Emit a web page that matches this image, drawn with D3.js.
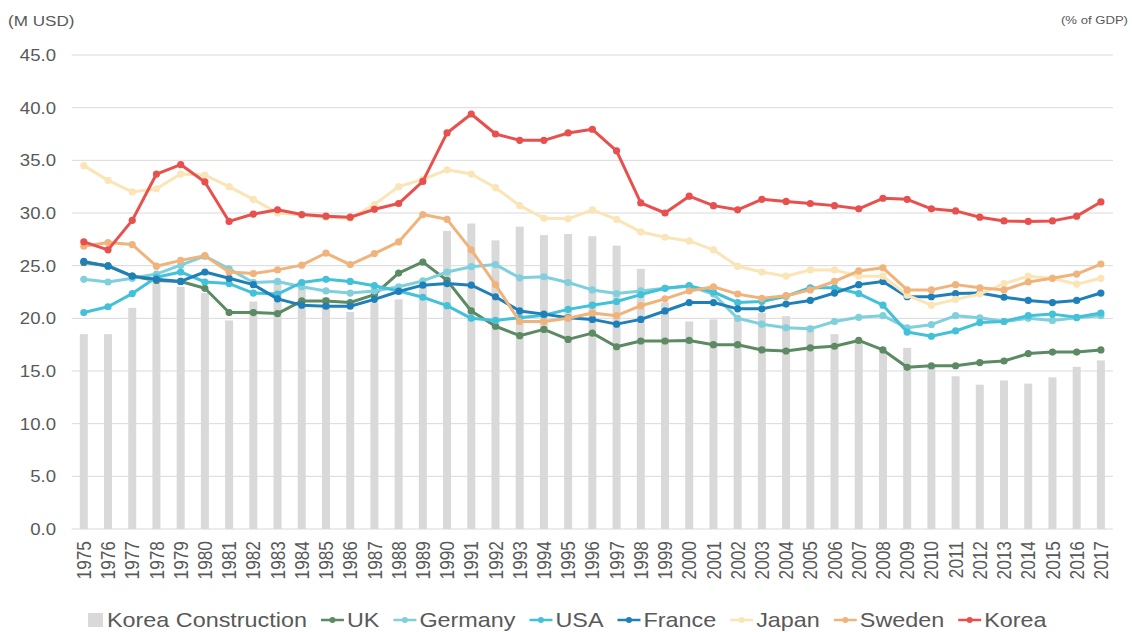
<html lang="en">
    <head>
        <meta charset="utf-8">
        <title>Construction investment</title>
        <script type="text/javascript" src="https://d3js.org/d3.v7.min.js"></script>
        <style>
            body { margin: 0; background: #ffffff; }
            text { font-family: "Liberation Sans", Arial, sans-serif; fill: #595959; }
        </style>
    </head>
    <body>
        <div id="chart"></div>
        <script type="text/javascript">
            // categories
            const years = ["1975","1976","1977","1978","1979","1980","1981","1982","1983","1984",
                           "1985","1986","1987","1988","1989","1990","1991","1992","1993","1994",
                           "1995","1996","1997","1998","1999","2000","2001","2002","2003","2004",
                           "2005","2006","2007","2008","2009","2010","2011","2012","2013","2014",
                           "2015","2016","2017"];
            const yTicks = [0, 5, 10, 15, 20, 25, 30, 35, 40, 45];

            // bars (M USD)
            const koreaConstruction = [18.5,18.5,21.0,23.4,23.0,22.4,19.8,21.6,23.5,22.9,
                                       22.0,20.6,21.5,21.8,23.0,28.3,29.0,27.4,28.7,27.9,
                                       28.0,27.8,26.9,24.7,21.5,19.7,19.9,19.8,20.5,20.2,
                                       19.3,18.5,17.9,16.9,17.2,15.4,14.5,13.7,14.1,13.8,
                                       14.4,15.4,16.0];
            // lines (% of GDP)
            const uk      = [25.3,25.0,24.0,23.6,23.5,22.85,20.55,20.55,20.45,21.65,
                             21.65,21.5,22.25,24.3,25.35,23.6,20.7,19.25,18.35,18.95,
                             18.0,18.6,17.3,17.85,17.85,17.9,17.5,17.5,17.0,16.9,
                             17.2,17.35,17.9,17.0,15.35,15.5,15.5,15.8,15.95,16.65,
                             16.8,16.8,17.0];
            const germany = [23.7,23.45,23.8,24.2,25.05,25.9,24.7,23.4,23.5,23.0,
                             22.6,22.4,22.6,23.0,23.55,24.4,24.9,25.1,23.85,23.95,
                             23.4,22.7,22.35,22.6,22.85,23.05,22.3,20.0,19.45,19.1,
                             19.0,19.7,20.1,20.25,19.1,19.4,20.25,20.05,19.7,20.0,
                             19.8,20.05,20.25];
            const usa     = [20.55,21.1,22.35,23.9,24.4,23.45,23.3,22.4,22.3,23.4,
                             23.7,23.5,23.1,22.6,22.0,21.2,20.0,19.8,20.05,20.3,
                             20.85,21.25,21.6,22.25,22.85,23.1,22.5,21.5,21.6,22.1,
                             22.9,22.9,22.35,21.25,18.7,18.3,18.8,19.6,19.7,20.25,
                             20.4,20.1,20.5];
            const france  = [25.4,24.95,24.0,23.7,23.5,24.4,23.8,23.2,21.85,21.25,
                             21.15,21.15,21.8,22.55,23.15,23.3,23.15,22.05,20.7,20.4,
                             20.05,19.9,19.45,19.9,20.7,21.5,21.5,20.9,20.9,21.35,
                             21.7,22.4,23.2,23.5,22.05,22.05,22.35,22.4,22.0,21.7,
                             21.5,21.7,22.4];
            const japan   = [34.5,33.1,32.0,32.3,33.7,33.6,32.5,31.3,30.0,29.8,
                             29.6,29.5,30.8,32.5,33.2,34.1,33.7,32.4,30.7,29.5,
                             29.45,30.3,29.4,28.2,27.7,27.35,26.5,24.95,24.4,24.0,
                             24.6,24.6,24.0,24.0,22.2,21.25,21.8,22.3,23.3,24.0,
                             23.8,23.25,23.8];
            const sweden  = [26.85,27.2,27.0,24.95,25.5,25.95,24.4,24.25,24.6,25.05,
                             26.2,25.1,26.15,27.25,29.85,29.4,26.5,23.2,19.7,19.7,
                             20.0,20.5,20.25,21.2,21.85,22.6,23.0,22.3,21.9,22.15,
                             22.7,23.5,24.5,24.8,22.7,22.7,23.2,22.9,22.7,23.45,
                             23.8,24.2,25.15];
            const korea   = [27.26,26.5,29.3,33.7,34.6,32.95,29.2,29.9,30.3,29.85,
                             29.7,29.6,30.35,30.9,33.0,37.6,39.4,37.5,36.9,36.9,
                             37.6,37.95,35.9,30.96,30.0,31.6,30.7,30.3,31.3,31.1,
                             30.9,30.7,30.4,31.4,31.3,30.4,30.2,29.6,29.25,29.2,
                             29.25,29.7,31.05];

            const seriesNames  = ["UK", "Germany", "USA", "France", "Japan", "Sweden", "Korea"];
            const seriesValues = [uk, germany, usa, france, japan, sweden, korea];
            const seriesColors = ["#5b8a63", "#7fcfdc", "#42c1d9", "#1f7fb8", "#fbe4b6", "#f1b37c", "#e8504e"];
            const barName = "Korea Construction";
            const barColor = "#d9d9d9";

            const width = 1132, height = 632;
            const margin = {top: 55, bottom: 103, left: 71.7, right: 19};
            const sx = 1.14;   // the reference text is a little wide

            const svg = d3.select("#chart").append("svg").attr("width", width).attr("height", height);

            const xScale = d3.scaleBand().domain(years).range([margin.left, width - margin.right]);
            const yScale = d3.scaleLinear().domain([0, 45]).range([height - margin.bottom, margin.top]);
            const xc = d => xScale(d) + xScale.bandwidth() / 2;

            // grid
            svg.append("g").selectAll("line").data(yTicks).join("line")
                .attr("x1", margin.left).attr("x2", width - margin.right)
                .attr("y1", d => yScale(d)).attr("y2", d => yScale(d))
                .attr("stroke", "#d9d9d9").attr("stroke-width", 1);

            // y tick labels
            svg.append("g").selectAll("text").data(yTicks).join("text")
                .attr("transform", d => `translate(56,${yScale(d)}) scale(${sx},1)`)
                .attr("text-anchor", "end").attr("dy", "0.36em")
                .attr("font-size", "16.3px")
                .text(d => d3.format(".1f")(d));

            // x tick labels (rotated)
            svg.append("g").selectAll("text").data(years).join("text")
                .attr("transform", d => `translate(${xc(d)},541) scale(${sx},1) rotate(-90)`)
                .attr("text-anchor", "end").attr("dy", "0.36em")
                .attr("font-size", "17.3px")
                .text(d => d);

            // unit labels
            svg.append("text").attr("transform", `translate(8,26) scale(${sx},1)`)
                .attr("font-size", "15px").text("(M USD)");
            svg.append("text").attr("transform", `translate(1128,24) scale(${sx},1)`)
                .attr("text-anchor", "end").attr("font-size", "11.5px").text("(% of GDP)");

            // bars
            const barW = 8;
            svg.append("g").selectAll("rect").data(koreaConstruction).join("rect")
                .attr("x", (d, i) => xc(years[i]) - barW / 2).attr("width", barW)
                .attr("y", d => yScale(d)).attr("height", d => yScale(0) - yScale(d))
                .attr("fill", barColor);

            // lines
            const line = d3.line().x((d, i) => xc(years[i])).y(d => yScale(d));
            seriesValues.forEach((vals, k) => {
                const g = svg.append("g");
                g.append("path").datum(vals)
                    .attr("fill", "none").attr("stroke", seriesColors[k])
                    .attr("stroke-width", 3).attr("stroke-linejoin", "round")
                    .attr("d", line);
                g.selectAll("circle").data(vals).join("circle")
                    .attr("cx", (d, i) => xc(years[i])).attr("cy", d => yScale(d))
                    .attr("r", 3.6).attr("fill", seriesColors[k]);
            });

            // legend
            const legend = svg.append("g");
            const ly = 620;
            let lx = 88;
            legend.append("rect").attr("x", lx).attr("y", ly - 7).attr("width", 15).attr("height", 14).attr("fill", barColor);
            lx += 19;
            let t = legend.append("text").attr("transform", `translate(${lx},${ly}) scale(${sx},1)`)
                .attr("dy", "0.36em").attr("font-size", "20.5px").text(barName);
            lx += t.node().getComputedTextLength() * sx + 14;
            seriesNames.forEach((name, k) => {
                legend.append("line").attr("x1", lx).attr("x2", lx + 23).attr("y1", ly).attr("y2", ly)
                    .attr("stroke", seriesColors[k]).attr("stroke-width", 2.5);
                legend.append("circle").attr("cx", lx + 11.5).attr("cy", ly).attr("r", 3)
                    .attr("fill", seriesColors[k]);
                lx += 26;
                const tt = legend.append("text").attr("transform", `translate(${lx},${ly}) scale(${sx},1)`)
                    .attr("dy", "0.36em").attr("font-size", "20.5px").text(name);
                lx += tt.node().getComputedTextLength() * sx + 14;
            });
        </script>
    </body>
</html>
